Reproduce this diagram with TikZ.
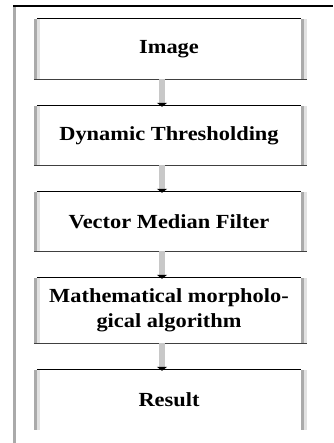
\documentclass[tikz,border=0pt]{standalone}
\usepackage{fontspec}
\setmainfont{Liberation Serif}
\newfontfamily\boxfont[FakeStretch=1.12]{Liberation Serif}
\usetikzlibrary{arrows.meta}
\definecolor{edgedark}{HTML}{AAAAAA}
\definecolor{edgelight}{HTML}{E2E2E2}
\definecolor{shaft}{HTML}{C8C8C8}
\tikzset{
  stepbox/.style={inner sep=0pt, minimum width=264pt, align=center,
    font=\boxfont\bfseries\fontsize{20}{25}\selectfont},
  topedge/.style={line width=1.1pt, black},
  darkedge/.style={line width=2.7pt, edgedark},
  lightedge/.style={line width=3pt, edgelight},
  botedge/.style={line width=0.9pt, black!75},
  flow/.style={line width=5.5pt, shaft, -{Triangle[black,width=10pt,length=4pt]}}
}
\begin{document}
\begin{tikzpicture}[x=1pt,y=-1pt]
\useasboundingbox (0,0) rectangle (333,443);
% outer frame
\draw[line width=2.7pt, edgedark] (14.5,6) -- (14.5,443);
\draw[line width=1.1pt, black] (13,6) -- (333,6);
% boxes
\node[stepbox, minimum height=60pt] (b1) at (169,49) {Image};
\node[stepbox, minimum height=59pt] (b2) at (169,135.5) {Dynamic Thresholding};
\node[stepbox, minimum height=59pt] (b3) at (169,221.5) {Vector Median Filter};
\node[stepbox, minimum height=65pt] (b4) at (169,310.5) {Mathematical morpholo-\\gical algorithm};
\node[stepbox, minimum height=60pt] (b5) at (169,400) {Result};
\foreach \b in {b1,b2,b3,b4,b5}{
  \draw[darkedge] ([xshift=-1.5pt]\b.north west) -- ([xshift=-1.5pt]\b.south west);
  \draw[lightedge] ([xshift=1.5pt]\b.north west) -- ([xshift=1.5pt]\b.south west);
  \draw[darkedge] ([xshift=1.5pt]\b.north east) -- ([xshift=1.5pt]\b.south east);
  \draw[lightedge] ([xshift=4.5pt]\b.north east) -- ([xshift=4.5pt]\b.south east);
  \draw[topedge] (\b.north west) -- (\b.north east);
}
\foreach \b in {b1,b2,b3,b4}{
  \draw[botedge] ([xshift=-3pt]\b.south west) -- ([xshift=6pt]\b.south east);
}
% connectors
\draw[flow] ([xshift=-7pt]b1.south) -- ([xshift=-7pt,yshift=-1pt]b2.north);
\draw[flow] ([xshift=-7pt]b2.south) -- ([xshift=-7pt,yshift=-1pt]b3.north);
\draw[flow] ([xshift=-7pt]b3.south) -- ([xshift=-7pt,yshift=-1pt]b4.north);
\draw[flow] ([xshift=-7pt]b4.south) -- ([xshift=-7pt,yshift=-1pt]b5.north);
\end{tikzpicture}
\end{document}
